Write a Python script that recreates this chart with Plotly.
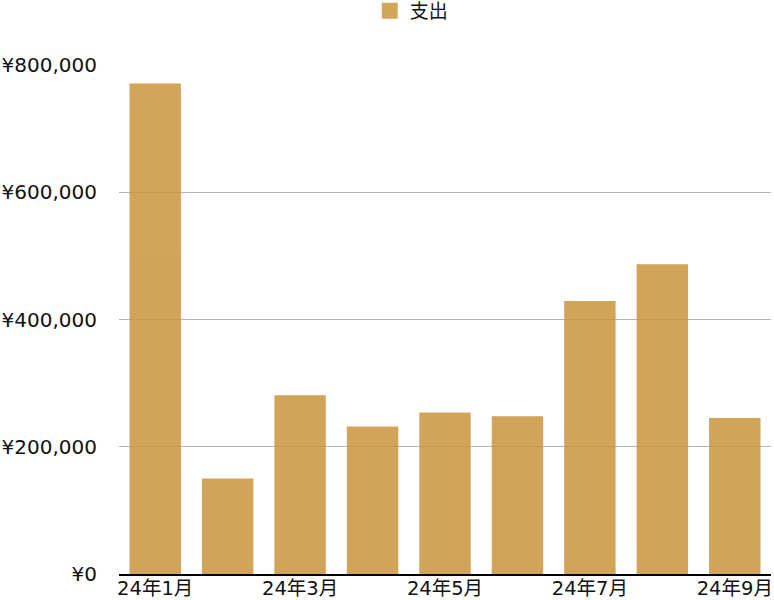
import plotly.graph_objects as go

months = ["24年1月", "24年2月", "24年3月", "24年4月", "24年5月",
          "24年6月", "24年7月", "24年8月", "24年9月"]
expenses = [771000, 150000, 281000, 232000, 254000, 248000, 429000, 487000, 245000]
shown_ticks = ["24年1月", "24年3月", "24年5月", "24年7月", "24年9月"]
y_ticks = [0, 200000, 400000, 600000, 800000]
y_labels = ["¥0", "¥200,000", "¥400,000", "¥600,000", "¥800,000"]

FONT = "DejaVu Sans, Noto Sans CJK JP"
BAR_COLOR = "rgb(203,149,62)"

fig = go.Figure()
fig.add_trace(go.Bar(
    x=months, y=expenses, name="支出",
    marker=dict(color=BAR_COLOR, line=dict(width=0)),
    opacity=0.85, showlegend=False,
))
# legend-only entry with a larger square swatch
fig.add_trace(go.Scatter(
    x=[None], y=[None], name="支出", mode="markers",
    marker=dict(symbol="square", size=16, color=BAR_COLOR, opacity=0.85),
    showlegend=True,
))

fig.update_layout(
    width=774, height=600,
    margin=dict(l=119, r=3, t=65, b=26, autoexpand=False),
    paper_bgcolor="white", plot_bgcolor="white",
    font=dict(family=FONT, size=20, color="#111111"),
    bargap=0.29,
    showlegend=True,
    legend=dict(orientation="h", x=0.449, xanchor="center", y=0.982, yanchor="middle",
                yref="container", font=dict(size=19), itemsizing="trace",
                itemwidth=30),
)
fig.update_xaxes(
    type="category", tickmode="array", tickvals=shown_ticks, ticktext=shown_ticks,
    showline=True, linecolor="black", linewidth=2, showgrid=False,
    ticks="", tickfont=dict(size=19.5), automargin=False, ticklabelstandoff=-4,
)
fig.update_yaxes(
    range=[0, 800000], tickmode="array", tickvals=y_ticks, ticktext=y_labels,
    showgrid=True, gridcolor="#b4b4b4", gridwidth=1, zeroline=False,
    showline=False, ticks="", ticklabelstandoff=21, tickfont=dict(size=20),
    automargin=False,
)

fig.write_html("out.html", config={"displayModeBar": False},
               post_script="document.body.style.margin='0';")
